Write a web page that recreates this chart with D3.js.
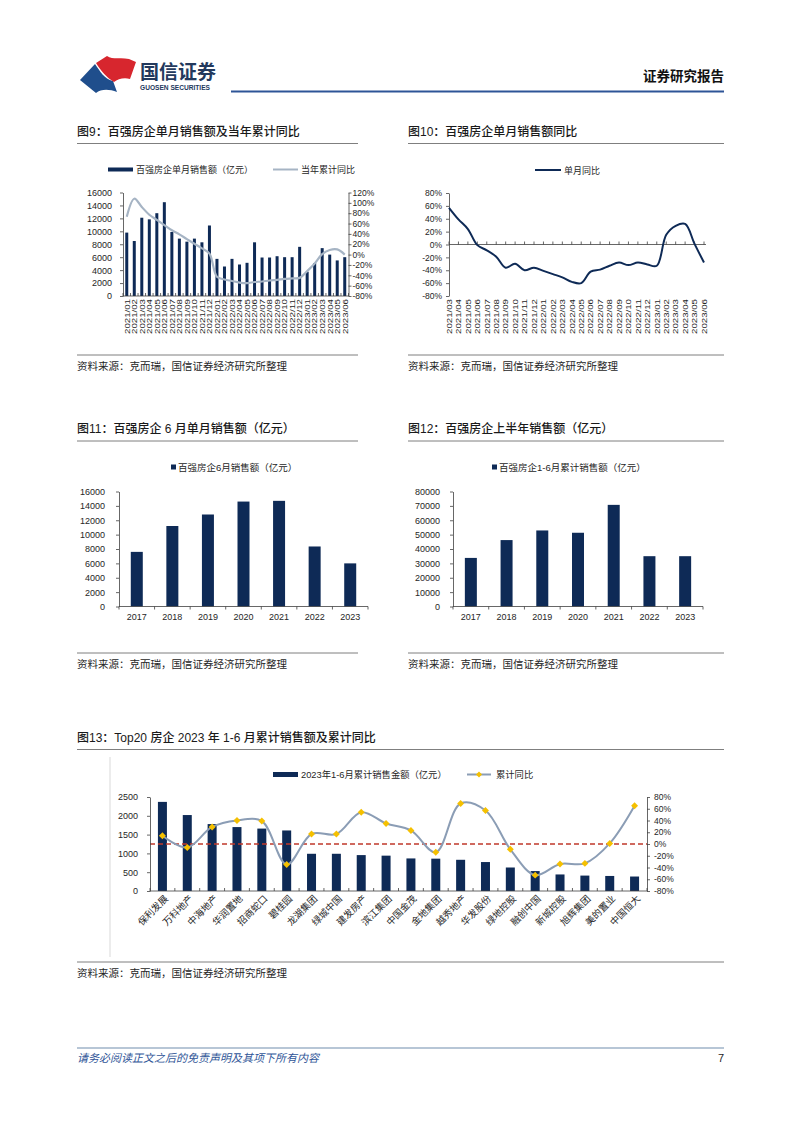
<!DOCTYPE html>
<html>
<head>
<meta charset="utf-8">
<script src="https://cdn.jsdelivr.net/npm/d3@7"></script>
<style>
  body { margin: 0; background: #fff; }
  svg text { font-family: "Liberation Sans", "Noto Sans CJK SC", sans-serif; fill: #262626; }
  .axis path, .axis line { stroke: #404040; stroke-width: 0.8; }
</style>
</head>
<body>
<svg id="page" width="802" height="1133"></svg>
<script>
/* global d3 */

// ---------------- data ----------------
const months9 = [
  '2021/01','2021/02','2021/03','2021/04','2021/05','2021/06','2021/07','2021/08','2021/09','2021/10','2021/11','2021/12',
  '2022/01','2022/02','2022/03','2022/04','2022/05','2022/06','2022/07','2022/08','2022/09','2022/10','2022/11','2022/12',
  '2023/01','2023/02','2023/03','2023/04','2023/05','2023/06'
];
// 百强房企单月销售额（亿元）
const monthlySales = [
  9800, 8500, 12100, 11850, 12800, 14500, 9900, 8870, 8400, 8870, 8300, 10900,
  5740, 4560, 5740, 4870, 5130, 8300, 5950, 5950, 6150, 6000, 6000, 7600,
  3750, 5100, 7400, 6400, 5500, 6000
];
// 当年累计同比（%）
const cumYoy = [
  73, 108, 92, 77, 67, 57, 47, 39, 30, 21, 12, 2,
  -43, -48, -51, -54, -55, -53, -52, -50, -49, -47, -46, -45,
  -32, -17, 1, 9, 10, 0
];

const months10 = [
  '2021/03','2021/04','2021/05','2021/06','2021/07','2021/08','2021/09','2021/10','2021/11','2021/12',
  '2022/01','2022/02','2022/03','2022/04','2022/05','2022/06','2022/07','2022/08','2022/09','2022/10','2022/11','2022/12',
  '2023/01','2023/02','2023/03','2023/04','2023/05','2023/06'
];
// 单月同比（%）
const monthlyYoy = [
  57, 39, 24, -1, -9, -19, -36, -30, -40, -36,
  -41, -46, -51, -58, -60, -42, -39, -33, -28, -32, -28, -31,
  -33, 15, 29, 32, 1, -28
];

const years = ['2017', '2018', '2019', '2020', '2021', '2022', '2023'];
const juneSales = [7600, 11200, 12800, 14600, 14700, 8350, 6000];
const h1Sales = [33800, 46200, 52900, 51300, 70700, 35000, 35000];

const companies = [
  '保利发展','万科地产','中海地产','华润置地','招商蛇口','碧桂园','龙湖集团','绿城中国','建发房产','滨江集团',
  '中国金茂','金地集团','越秀地产','华发股份','绿地控股','融创中国','新城控股','旭辉集团','美的置业','中国恒大'
];
const top20Sales = [2370, 2020, 1780, 1700, 1660, 1610, 990, 990, 955, 940, 866, 860, 830, 770, 625, 530, 440, 410, 400, 385];
const top20Yoy = [14, -6, 29, 40, 39, -35, 17, 17, 54, 35, 23, -14, 69, 57, -9, -53, -34, -33, 1, 65];

// ---------------- page ----------------
const NAVY = '#0E2A56';
const svg = d3.select('#page');
const plain = d => String(d);
const pct = d => d + '%';

// header
svg.append('path')
  .attr('d', 'M80,80 L95,64 C100,71 104,79 113,81 L117,92 C109,89 101,89 96,93 Z')
  .attr('fill', '#1F4E8C');
svg.append('path')
  .attr('d', 'M96,63 L107,56 C113,60 121,57 129,59 L136,62 L130,79 C124,77 118,79 114,82 C107,78 101,71 96,63 Z')
  .attr('fill', '#D7262E');
svg.append('text').attr('x', 140).attr('y', 79)
  .style('font-size', '19px').style('font-weight', 'bold').style('fill', '#23395D')
  .style('font-family', '"Noto Sans CJK SC"').text('国信证券');
svg.append('text').attr('x', 140).attr('y', 90)
  .style('font-size', '6.6px').style('font-weight', 'bold').style('fill', '#23395D')
  .text('GUOSEN SECURITIES');
svg.append('text').attr('x', 724).attr('y', 81).attr('text-anchor', 'end')
  .style('font-size', '13.5px').style('font-weight', 'bold').style('fill', '#111')
  .style('font-family', '"Noto Sans CJK SC"').text('证券研究报告');
svg.append('line').attr('x1', 231).attr('x2', 724).attr('y1', 91.5).attr('y2', 91.5)
  .attr('stroke', '#2E5597').attr('stroke-width', 2);

// footer
svg.append('line').attr('x1', 77).attr('x2', 724).attr('y1', 1048).attr('y2', 1048)
  .attr('stroke', '#9FB3C8').attr('stroke-width', 1.5);
svg.append('text').attr('x', 77).attr('y', 1062)
  .style('font-size', '11px').style('font-style', 'italic').style('fill', '#2F5597')
  .style('font-family', '"Noto Sans CJK SC"').text('请务必阅读正文之后的免责声明及其项下所有内容');
svg.append('text').attr('x', 724).attr('y', 1062).attr('text-anchor', 'end')
  .style('font-size', '11px').text('7');

// panel title + source
const panel = (x0, x1, titleY, title, sourceY) => {
  svg.append('text').attr('x', x0).attr('y', titleY)
    .style('font-size', '12px').style('font-weight', 500).style('fill', '#1a1a1a')
    .text(title);
  svg.append('line').attr('x1', x0).attr('x2', x1).attr('y1', titleY + 8).attr('y2', titleY + 8)
    .attr('stroke', '#7f7f7f').attr('stroke-width', 1);
  svg.append('line').attr('x1', x0).attr('x2', x1).attr('y1', sourceY).attr('y2', sourceY)
    .attr('stroke', '#7f7f7f').attr('stroke-width', 1);
  svg.append('text').attr('x', x0).attr('y', sourceY + 15)
    .style('font-size', '10.5px').text('资料来源：克而瑞，国信证券经济研究所整理');
};

const styleAxis = (g, size) => {
  g.attr('class', 'axis');
  g.selectAll('text').style('font-size', size + 'px').style('fill', '#262626');
};

const bandTicks = (g, x, y0, len) => {
  const pos = x.domain().map(d => x(d)).concat([x.range()[1]]);
  g.append('g').selectAll('line').data(pos).join('line')
    .attr('x1', d => d).attr('x2', d => d)
    .attr('y1', y0).attr('y2', y0 + len)
    .attr('stroke', '#404040').attr('stroke-width', 0.8);
};

// ---------------- 图9 ----------------
const build9 = () => {
  panel(77, 358, 135.5, '图9：百强房企单月销售额及当年累计同比', 355);
  const x = d3.scaleBand().domain(months9).range([123, 348.5]);
  const y = d3.scaleLinear().domain([0, 16000]).range([296, 192.5]);
  const yr = d3.scaleLinear().domain([-80, 120]).range([296, 192.5]);
  const cx = d => x(d) + x.bandwidth() / 2;

  // legend
  svg.append('rect').attr('x', 108).attr('y', 167.5).attr('width', 25).attr('height', 4).attr('fill', NAVY);
  svg.append('text').attr('x', 136).attr('y', 173).style('font-size', '9px').text('百强房企单月销售额（亿元）');
  svg.append('line').attr('x1', 273).attr('x2', 298).attr('y1', 169.5).attr('y2', 169.5)
    .attr('stroke', '#A6B4C4').attr('stroke-width', 2);
  svg.append('text').attr('x', 301).attr('y', 173).style('font-size', '9px').text('当年累计同比');

  svg.append('g').selectAll('rect').data(monthlySales).join('rect')
    .attr('x', (d, i) => cx(months9[i]) - 1.5)
    .attr('width', 3)
    .attr('y', d => y(d))
    .attr('height', d => y(0) - y(d))
    .attr('fill', NAVY);

  const line = d3.line()
    .x((d, i) => cx(months9[i]))
    .y(d => yr(d))
    .curve(d3.curveCatmullRom.alpha(0.5));
  svg.append('path').datum(cumYoy).attr('d', line)
    .attr('fill', 'none').attr('stroke', '#A6B4C4').attr('stroke-width', 2.2);

  svg.append('g').attr('transform', 'translate(123,0)')
    .call(d3.axisLeft(y).tickValues(d3.range(0, 16001, 2000)).tickFormat(plain).tickSize(3).tickPadding(8).tickSizeOuter(0))
    .call(g => styleAxis(g, 9));
  svg.append('g').attr('transform', 'translate(348.5,0)')
    .call(d3.axisRight(yr).tickValues(d3.range(-80, 121, 20)).tickFormat(pct).tickSize(3).tickPadding(1).tickSizeOuter(0))
    .call(g => styleAxis(g, 8.5));
  svg.append('line').attr('x1', 123).attr('x2', 348.5).attr('y1', 296).attr('y2', 296)
    .attr('stroke', '#404040').attr('stroke-width', 0.8);
  bandTicks(svg.append('g'), x, 296, -3);

  svg.append('g').selectAll('text').data(months9).join('text')
    .attr('transform', d => `translate(${cx(d)},299) rotate(-90)`)
    .attr('text-anchor', 'end').attr('dy', '0.35em')
    .attr('textLength', 35).attr('lengthAdjust', 'spacingAndGlyphs')
    .style('font-size', '8px')
    .text(d => d);
};

// ---------------- 图10 ----------------
const build10 = () => {
  panel(408, 724, 135.5, '图10：百强房企单月销售额同比', 355);
  const x = d3.scalePoint().domain(months10).range([449, 704]);
  const y = d3.scaleLinear().domain([-80, 80]).range([296, 193]);

  svg.append('line').attr('x1', 535).attr('x2', 561).attr('y1', 170).attr('y2', 170)
    .attr('stroke', NAVY).attr('stroke-width', 2);
  svg.append('text').attr('x', 564).attr('y', 173.5).style('font-size', '9px').text('单月同比');

  svg.append('g').attr('transform', 'translate(449,0)')
    .call(d3.axisLeft(y).tickValues(d3.range(-80, 81, 20)).tickFormat(pct).tickSize(3).tickPadding(4).tickSizeOuter(0))
    .call(g => styleAxis(g, 8.5));
  svg.append('line').attr('x1', 449).attr('x2', 706).attr('y1', y(0)).attr('y2', y(0))
    .attr('stroke', '#404040').attr('stroke-width', 0.8);
  svg.append('g').selectAll('line').data(months10).join('line')
    .attr('x1', d => x(d)).attr('x2', d => x(d))
    .attr('y1', y(0)).attr('y2', y(0) - 3)
    .attr('stroke', '#404040').attr('stroke-width', 0.8);

  const line = d3.line()
    .x((d, i) => x(months10[i]))
    .y(d => y(d))
    .curve(d3.curveCatmullRom.alpha(0.5));
  svg.append('path').datum(monthlyYoy).attr('d', line)
    .attr('fill', 'none').attr('stroke', NAVY).attr('stroke-width', 2);

  svg.append('g').selectAll('text').data(months10).join('text')
    .attr('transform', d => `translate(${x(d)},299) rotate(-90)`)
    .attr('text-anchor', 'end').attr('dy', '0.35em')
    .attr('textLength', 35).attr('lengthAdjust', 'spacingAndGlyphs')
    .style('font-size', '8px')
    .text(d => d);
};

// ---------------- 图11 / 图12 ----------------
const yearBars = (opts) => {
  panel(opts.x0, opts.x1, 433, opts.title, 653);
  const x = d3.scaleBand().domain(years).range([opts.left, opts.right]);
  const y = d3.scaleLinear().domain([0, opts.max]).range([606.5, 491.5]);

  svg.append('rect').attr('x', opts.legendX).attr('y', 464.5).attr('width', 5).attr('height', 5).attr('fill', NAVY);
  svg.append('text').attr('x', opts.legendX + 7).attr('y', 470.5).style('font-size', '9.5px').text(opts.legend);

  svg.append('g').selectAll('rect').data(opts.values).join('rect')
    .attr('x', (d, i) => x(years[i]) + x.bandwidth() / 2 - 6)
    .attr('width', 12)
    .attr('y', d => y(d))
    .attr('height', d => y(0) - y(d))
    .attr('fill', NAVY);

  svg.append('g').attr('transform', `translate(${opts.left},0)`)
    .call(d3.axisLeft(y).tickValues(d3.range(0, opts.max + 1, opts.step)).tickFormat(plain).tickSize(3).tickPadding(opts.pad).tickSizeOuter(0))
    .call(g => styleAxis(g, 9));
  svg.append('line').attr('x1', opts.left).attr('x2', opts.right).attr('y1', 606.5).attr('y2', 606.5)
    .attr('stroke', '#404040').attr('stroke-width', 0.8);
  bandTicks(svg.append('g'), x, 606.5, 3);

  svg.append('g').selectAll('text').data(years).join('text')
    .attr('x', d => x(d) + x.bandwidth() / 2).attr('y', 620)
    .attr('text-anchor', 'middle').style('font-size', '9px')
    .text(d => d);
};

// ---------------- 图13 ----------------
const build13 = () => {
  panel(77, 724, 741.5, '图13：Top20 房企 2023 年 1-6 月累计销售额及累计同比', 962);
  svg.append('line').attr('x1', 110).attr('x2', 110).attr('y1', 757).attr('y2', 957)
    .attr('stroke', '#D9D9D9').attr('stroke-width', 1);

  const x = d3.scaleBand().domain(companies).range([150, 647]);
  const y = d3.scaleLinear().domain([0, 2500]).range([891, 797]);
  const yr = d3.scaleLinear().domain([-80, 80]).range([891, 797]);
  const cx = d => x(d) + x.bandwidth() / 2;

  // legend
  svg.append('rect').attr('x', 273).attr('y', 772).attr('width', 25).attr('height', 5).attr('fill', NAVY);
  svg.append('text').attr('x', 301).attr('y', 778).style('font-size', '9.3px').text('2023年1-6月累计销售金额（亿元）');
  svg.append('line').attr('x1', 467).attr('x2', 491).attr('y1', 774.5).attr('y2', 774.5)
    .attr('stroke', '#8B9DB5').attr('stroke-width', 2);
  svg.append('path').attr('d', d3.symbol(d3.symbolSquare, 18)())
    .attr('transform', 'translate(479,774.5) rotate(45)').attr('fill', '#F5C000');
  svg.append('text').attr('x', 496).attr('y', 778).style('font-size', '9.3px').text('累计同比');

  svg.append('g').selectAll('rect').data(top20Sales).join('rect')
    .attr('x', (d, i) => cx(companies[i]) - 4.5)
    .attr('width', 9)
    .attr('y', d => y(d))
    .attr('height', d => y(0) - y(d))
    .attr('fill', NAVY);

  svg.append('line').attr('x1', 150).attr('x2', 647).attr('y1', yr(0)).attr('y2', yr(0))
    .attr('stroke', '#C0392B').attr('stroke-width', 1.5).attr('stroke-dasharray', '5,3');

  const line = d3.line()
    .x((d, i) => cx(companies[i]))
    .y(d => yr(d))
    .curve(d3.curveCatmullRom.alpha(0.5));
  svg.append('path').datum(top20Yoy).attr('d', line)
    .attr('fill', 'none').attr('stroke', '#8B9DB5').attr('stroke-width', 2);
  svg.append('g').selectAll('path').data(top20Yoy).join('path')
    .attr('d', d3.symbol(d3.symbolSquare, 24)())
    .attr('transform', (d, i) => `translate(${cx(companies[i])},${yr(d)}) rotate(45)`)
    .attr('fill', '#F5C000');

  svg.append('g').attr('transform', 'translate(150,0)')
    .call(d3.axisLeft(y).tickValues(d3.range(0, 2501, 500)).tickFormat(plain).tickSize(3).tickPadding(9).tickSizeOuter(0))
    .call(g => styleAxis(g, 9));
  svg.append('g').attr('transform', 'translate(647,0)')
    .call(d3.axisRight(yr).tickValues(d3.range(-80, 81, 20)).tickFormat(pct).tickSize(3).tickPadding(4).tickSizeOuter(0))
    .call(g => styleAxis(g, 8.5));
  svg.append('line').attr('x1', 150).attr('x2', 647).attr('y1', 891).attr('y2', 891)
    .attr('stroke', '#404040').attr('stroke-width', 0.8);
  bandTicks(svg.append('g'), x, 891, -3);

  svg.append('g').selectAll('text').data(companies).join('text')
    .attr('transform', d => `translate(${cx(d) + 4},897) rotate(-45)`)
    .attr('text-anchor', 'end').attr('dy', '0.35em')
    .style('font-size', '9.5px')
    .text(d => d);
};

build9();
build10();
yearBars({
  x0: 77, x1: 358, left: 119, right: 368, max: 16000, step: 2000, pad: 11,
  title: '图11：百强房企 6 月单月销售额（亿元）',
  legend: '百强房企6月销售额（亿元）', legendX: 171, values: juneSales
});
yearBars({
  x0: 408, x1: 724, left: 453, right: 703, max: 80000, step: 10000, pad: 10,
  title: '图12：百强房企上半年销售额（亿元）',
  legend: '百强房企1-6月累计销售额（亿元）', legendX: 492, values: h1Sales
});
build13();
</script>
</body>
</html>
